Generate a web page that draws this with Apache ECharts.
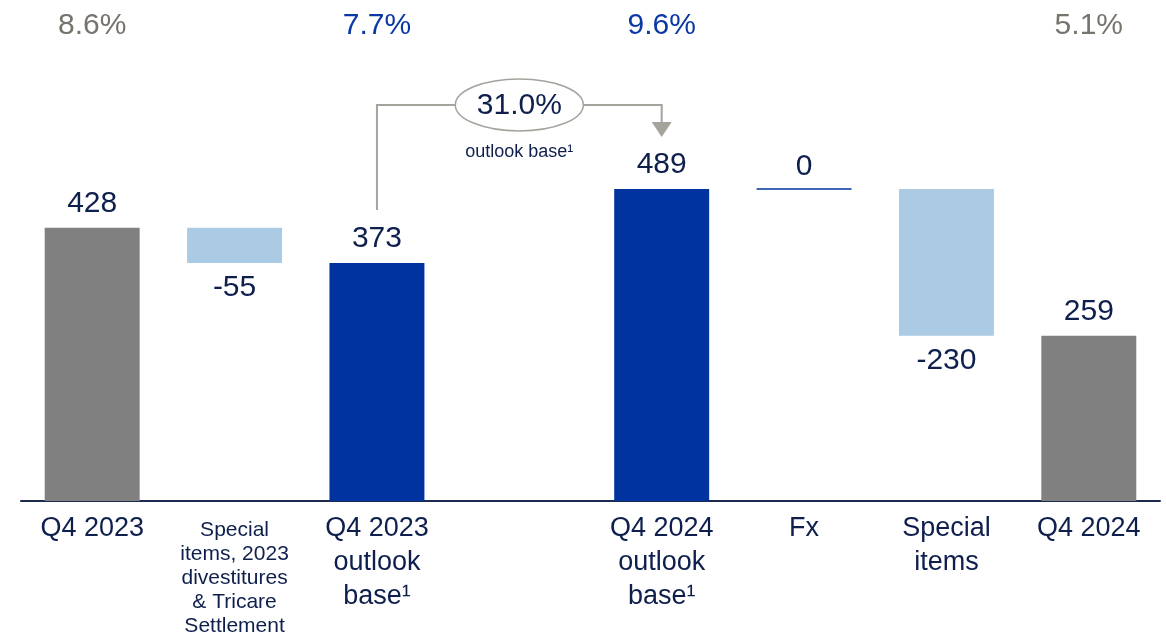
<!DOCTYPE html>
<html>
<head>
<meta charset="utf-8">
<script src="https://cdn.jsdelivr.net/npm/echarts@6/dist/echarts.min.js"></script>
<style>
html,body{margin:0;padding:0;background:#fff;}
#chart{width:1166px;height:643px;}
</style>
</head>
<body>
<div id="chart"></div>
<script>
// ---- data ----
const categories = [
  'Q4 2023',
  'Special\nitems, 2023\ndivestitures\n& Tricare\nSettlement',
  'Q4 2023\noutlook\nbase¹',
  '',
  'Q4 2024\noutlook\nbase¹',
  'Fx',
  'Special\nitems',
  'Q4 2024'
];
// bar kinds: 'reported' total, 'outlook' total, 'delta' change, null = empty slot
const kinds = ['reported', 'delta', 'outlook', null, 'outlook', 'delta', 'delta', 'reported'];
const values = [428, -55, 373, null, 489, 0, -230, 259];
const margins = ['8.6%', '', '7.7%', '', '9.6%', '', '', '5.1%'];
const marginKinds = ['reported', '', 'outlook', '', 'outlook', '', '', 'reported'];
const growthLabel = '31.0%';
const growthSub = 'outlook base¹';
const growthFrom = 2, growthTo = 4;

// ---- build waterfall ranges ----
const NAVY = '#0e1f4d';
const FONT = '"Liberation Sans", Arial, sans-serif';
const colors = { reported: '#808080', outlook: '#0033a0', delta: '#abcae4' };
const barData = [];
let running = 0;
for (let i = 0; i < values.length; i++) {
  if (kinds[i] === null) continue;
  let lo, hi;
  if (kinds[i] === 'delta') {
    const next = running + values[i];
    lo = Math.min(running, next); hi = Math.max(running, next);
    running = next;
  } else {
    lo = 0; hi = values[i]; running = values[i];
  }
  barData.push([i, lo, hi, values[i], kinds[i]]);
}
const connData = [[growthFrom, values[growthFrom], growthTo, values[growthTo]]];

const chart = echarts.init(document.getElementById('chart'));
const option = {
  animation: false,
  backgroundColor: '#fff',
  grid: { left: 21, right: 6, top: 60, bottom: 142 },
  xAxis: [{
    type: 'category',
    data: categories,
    position: 'bottom',
    axisLine: { show: true, lineStyle: { color: '#1c2a50', width: 2 } },
    axisTick: { show: false },
    axisLabel: {
      interval: 0, margin: 11,
      formatter: function (v, i) {
        if (!v) return '';
        const lines = v.split('\n');
        if (lines.length > 3) {
          return '{gap| }\n' + lines.map(l => '{sm|' + l + '}').join('\n');
        }
        return lines.map(l => '{big|' + l + '}').join('\n');
      },
      rich: {
        big: { fontFamily: FONT, fontSize: 27, lineHeight: 34, color: NAVY },
        sm: { fontFamily: FONT, fontSize: 21, lineHeight: 24, color: NAVY },
        gap: { fontSize: 1, lineHeight: 6 }
      }
    }
  }, {
    type: 'category',
    data: categories,
    position: 'top',
    axisLine: { show: false },
    axisTick: { show: false },
    axisLabel: {
      interval: 0, margin: 19,
      formatter: function (v, i) {
        if (!margins[i]) return '';
        return '{' + (marginKinds[i] === 'outlook' ? 'b' : 'g') + '|' + margins[i] + '}';
      },
      rich: {
        g: { fontFamily: FONT, fontSize: 30, lineHeight: 30, color: '#77736d' },
        b: { fontFamily: FONT, fontSize: 30, lineHeight: 30, color: '#0a38a4' }
      }
    }
  }],
  yAxis: { type: 'value', min: 0, max: 691, show: false, splitLine: { show: false } },
  series: [{
    type: 'custom',
    xAxisIndex: 0,
    data: barData,
    encode: { x: 0, y: [1, 2] },
    renderItem: function (params, api) {
      const i = api.value(0), lo = api.value(1), hi = api.value(2), v = api.value(3);
      const kind = barData[params.dataIndex][4];
      const bw = api.size([1, 0])[0] * 0.667;
      const pHi = api.coord([i, hi]);
      const pLo = api.coord([i, lo]);
      const x = pHi[0];
      const children = [];
      if (hi === lo) {
        children.push({
          type: 'line',
          shape: { x1: x - bw / 2, y1: pHi[1], x2: x + bw / 2, y2: pHi[1] },
          style: { stroke: colors.outlook, lineWidth: 1.5 }
        });
      } else {
        children.push({
          type: 'rect',
          shape: { x: x - bw / 2, y: pHi[1], width: bw, height: pLo[1] - pHi[1] },
          style: { fill: colors[kind] }
        });
      }
      const below = kind === 'delta' && v < 0;
      children.push({
        type: 'text',
        style: {
          text: String(v), x: x,
          y: below ? pLo[1] + 25 : pHi[1] - (hi === lo ? 22 : 24),
          align: 'center', verticalAlign: 'middle',
          font: '30px ' + FONT, fill: NAVY
        }
      });
      return { type: 'group', children: children };
    },
    z: 2
  }, {
    type: 'custom',
    xAxisIndex: 0,
    data: connData,
    encode: { x: [0, 2], y: [1, 3] },
    renderItem: function (params, api) {
      const fromI = api.value(0), fromV = api.value(1), toI = api.value(2), toV = api.value(3);
      const a = api.coord([fromI, fromV]);
      const b = api.coord([toI, toV]);
      const topY = Math.min(a[1], b[1]) - 84;
      const startY = a[1] - 53;
      const tipY = b[1] - 52;
      const midX = (a[0] + b[0]) / 2;
      const gray = '#a6a39c';
      return {
        type: 'group',
        children: [{
          type: 'polyline',
          shape: { points: [[a[0], startY], [a[0], topY], [b[0], topY], [b[0], tipY - 14]] },
          style: { stroke: gray, lineWidth: 2, fill: null }
        }, {
          type: 'polygon',
          shape: { points: [[b[0] - 10, tipY - 15], [b[0] + 10, tipY - 15], [b[0], tipY]] },
          style: { fill: gray }
        }, {
          type: 'ellipse',
          shape: { cx: midX, cy: topY, rx: 64, ry: 26 },
          style: { fill: '#fff', stroke: gray, lineWidth: 1.5 }
        }, {
          type: 'text',
          style: {
            text: growthLabel, x: midX, y: topY + 1,
            align: 'center', verticalAlign: 'middle',
            font: '30px ' + FONT, fill: NAVY
          }
        }, {
          type: 'text',
          style: {
            text: growthSub, x: midX, y: topY + 47,
            align: 'center', verticalAlign: 'middle',
            font: '18px ' + FONT, fill: NAVY
          }
        }]
      };
    },
    z: 3
  }]
};
chart.setOption(option);
</script>
</body>
</html>
